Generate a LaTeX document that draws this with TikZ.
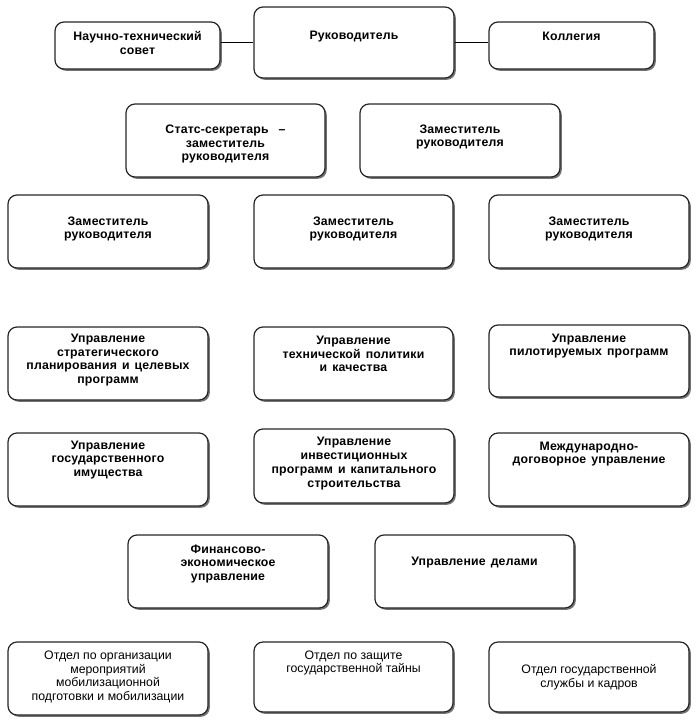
\documentclass[tikz,border=0pt]{standalone}
\usepackage{fontspec}
\setmainfont{Liberation Sans}[BoldFeatures={WordSpace=1.4, LetterSpace=1.5}]
\usetikzlibrary{shadows}
\begin{document}
\begin{tikzpicture}[x=1pt,y=-1pt,
  box/.style={draw=black!85, line width=1.2pt, rounded corners=9pt, fill=white,
    minimum width=#1, inner sep=0pt,
    drop shadow={shadow xshift=1.8pt, shadow yshift=-1.8pt, fill=black!55, opacity=1}},
  txt/.style={align=center, inner sep=0pt, font=\fontsize{12.3}{13.8}\selectfont\bfseries},
  rtxt/.style={align=center, inner sep=0pt, font=\fontsize{12.3}{13.8}\selectfont},
  conn/.style={draw=black, line width=0.9pt}]
\useasboundingbox (0,0) rectangle (700,720);
\tikzset{bx/.style args={#1/#2}{box=#1, minimum height=#2}}
% row 1
\node[bx=165pt/47pt] (nts) at (137.5,45.5) {};
\node[txt] at (137.5,43) {Научно-технический\\совет};
\node[bx=200pt/71pt] (ruk) at (354,42.5) {};
\node[txt] at (354,37) {Руководитель};
\node[bx=165pt/47pt] (kol) at (571.5,45.5) {};
\node[txt] at (571.5,36) {Коллегия};
\draw[conn] (nts.east |- 0,42) -- (ruk.west |- 0,42);
\draw[conn] (ruk.east |- 0,42) -- (kol.west |- 0,42);
% row 2
\node[bx=199pt/73pt] (ss) at (225.5,140.5) {};
\node[txt] at (225.5,144) {Статс-секретарь~~–\\заместитель\\руководителя};
\node[bx=200pt/73pt] (z0) at (460,140.5) {};
\node[txt] at (460,137) {Заместитель\\руководителя};
% row 3
\node[bx=200pt/73pt] (z1) at (108,231.5) {};
\node[txt] at (108,229) {Заместитель\\руководителя};
\node[bx=199pt/73pt] (z2) at (353.5,231.5) {};
\node[txt] at (353.5,229) {Заместитель\\руководителя};
\node[bx=200pt/73pt] (z3) at (589,231.5) {};
\node[txt] at (589,229) {Заместитель\\руководителя};
% row 4
\node[bx=200pt/73pt] (u1) at (108,363.5) {};
\node[txt] at (108,360) {Управление\\стратегического\\планирования и целевых\\программ};
\node[bx=199pt/73pt] (u2) at (353.5,363.5) {};
\node[txt] at (353.5,354) {Управление\\технической политики\\и качества};
\node[bx=200pt/72pt] (u3) at (589,361) {};
\node[txt] at (589,346) {Управление\\пилотируемых программ};
% row 5
\node[bx=200pt/73pt] (u4) at (108,469.5) {};
\node[txt] at (108,460) {Управление\\государственного\\имущества};
\node[bx=200pt/74pt] (u5) at (354,466) {};
\node[txt] at (354,463.5) {Управление\\инвестиционных\\программ и капитального\\строительства};
\node[bx=200pt/73pt] (u6) at (589,469.5) {};
\node[txt] at (589,454) {Международно-\\договорное управление};
% row 6
\node[bx=200pt/73pt] (fin) at (228,571.5) {};
\node[txt] at (228,564) {Финансово-\\экономическое\\управление};
\node[bx=199pt/73pt] (del) at (474.5,571.5) {};
\node[txt] at (474.5,563) {Управление делами};
% row 7
\node[bx=200pt/73pt] (o1) at (108,678.5) {};
\node[rtxt] at (108,677) {Отдел по организации\\мероприятий\\мобилизационной\\подготовки и мобилизации};
\node[bx=199pt/70pt] (o2) at (353.5,677) {};
\node[rtxt] at (353.5,663) {Отдел по защите\\государственной тайны};
\node[bx=200pt/70pt] (o3) at (589,677) {};
\node[rtxt] at (589,677) {Отдел государственной\\службы и кадров};
\end{tikzpicture}
\end{document}
